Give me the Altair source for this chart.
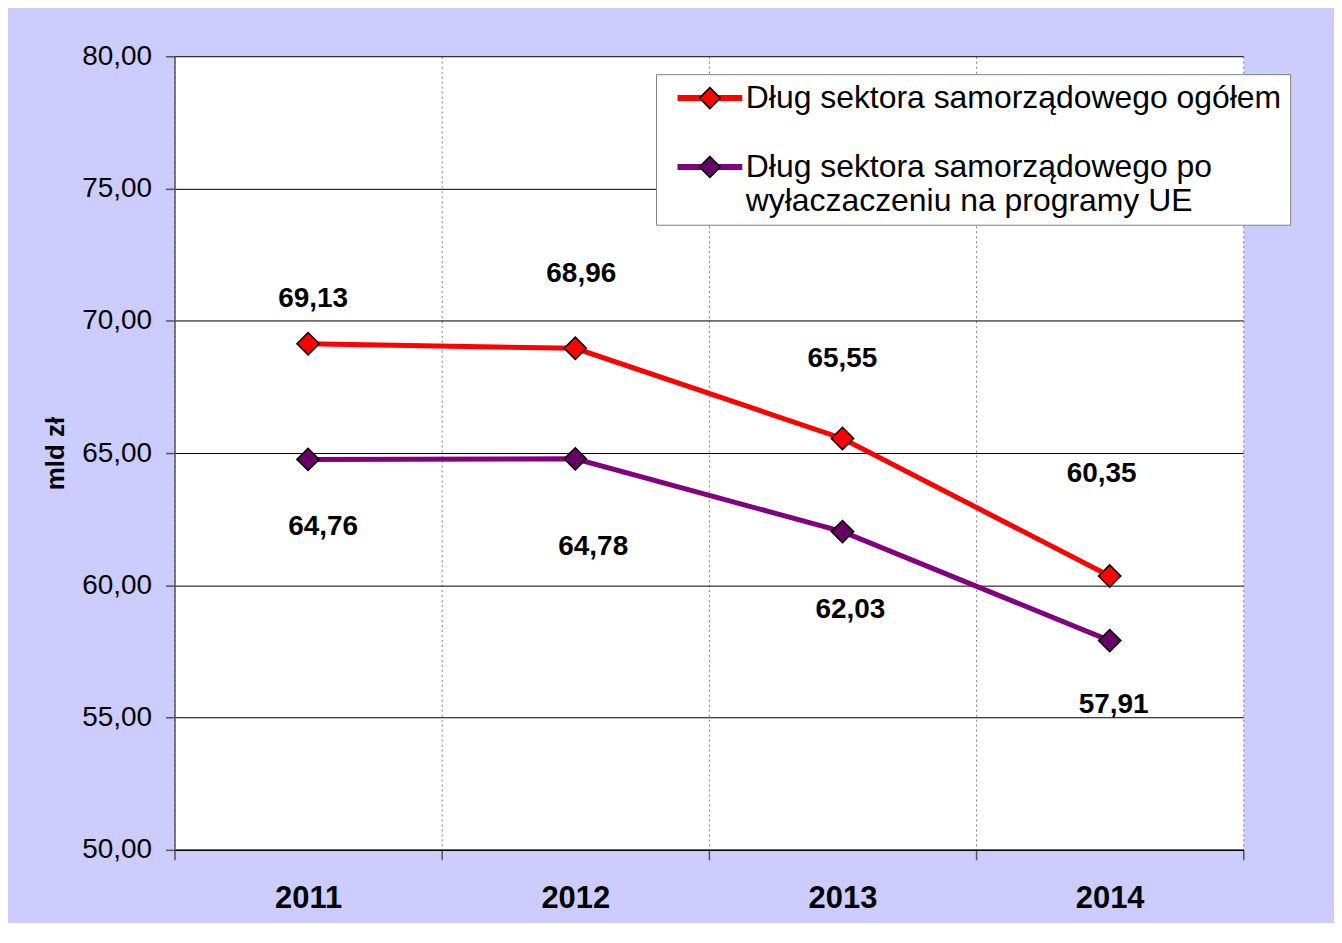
import json
import altair as alt
import pandas as pd

# ---------------- data ----------------
years = ["2011", "2012", "2013", "2014"]
series_names = [
    "Dług sektora samorządowego ogółem",
    "Dług sektora samorządowego po wyłaczaczeniu na programy UE",
]
legend_second_lines = ["Dług sektora samorządowego po", "wyłaczaczeniu na programy UE"]
total_debt = [69.13, 68.96, 65.55, 60.35]
debt_excl_eu = [64.76, 64.78, 62.03, 57.91]
y_ticks = [50, 55, 60, 65, 70, 75, 80]

# ---------------- styling / layout ----------------
FONT = "Liberation Sans"
line_colors = ["#FF0000", "#800080"]
marker_colors = ["#FF0000", "#660066"]
# pixel offsets of the value labels from their points
label_dx = [[5, 6, 0, -8], [15, 18, 8, 4]]
label_dy = [[-45, -74, -80, -102], [68, 88, 79, 65]]

rows = []
for s, (name, vals) in enumerate(zip(series_names, [total_debt, debt_excl_eu])):
    for i, (yr, v) in enumerate(zip(years, vals)):
        rows.append({"year": yr, "value": v, "series": name, "series_pt": name,
                     "sidx": s, "idx": i})
df = pd.DataFrame(rows)

label_expr = (f"datum.label == {json.dumps(series_names[1], ensure_ascii=False)} ? "
              f"{json.dumps(legend_second_lines, ensure_ascii=False)} : datum.label")

x_enc = alt.X(
    "year:N", sort=years,
    scale=alt.Scale(type="band", paddingInner=0, paddingOuter=0),
    axis=alt.Axis(title=None, labelAngle=0, labelFont=FONT, labelFontSize=31,
                  labelFontWeight="bold", labelColor="black", tickBand="extent",
                  tickSize=10, tickColor="#555555", tickWidth=1.5, labelPadding=24,
                  domainColor="black", domainWidth=1.5, grid=True, gridDash=[2, 3],
                  gridColor="#808080", gridWidth=1),
)
y_enc = alt.Y(
    "value:Q",
    scale=alt.Scale(domain=[50, 80], nice=False, zero=False),
    axis=alt.Axis(title="mld zł", values=y_ticks,
                  labelExpr="replace(format(datum.value, '.2f'), '.', ',')",
                  labelFont=FONT, labelFontSize=28, labelColor="black",
                  tickSize=9, tickColor="#555555", tickWidth=1.5, labelPadding=14,
                  domainColor="#555555", domainWidth=1.5, gridColor="black", gridWidth=1,
                  titleFont=FONT, titleFontSize=26, titleFontWeight="bold",
                  titleColor="black", titlePadding=13),
)

legend_common = dict(title=None, orient="none", legendX=483, legendY=18,
                     direction="vertical", labelFont=FONT, labelFontSize=32,
                     labelLimit=900, labelExpr=label_expr, padding=8, rowPadding=37,
                     symbolOffset=30, labelOffset=20)

lines = alt.Chart(df).mark_line(strokeWidth=5).encode(
    x=x_enc, y=y_enc,
    stroke=alt.Stroke("series:N",
                      scale=alt.Scale(domain=series_names, range=line_colors),
                      legend=alt.Legend(symbolType="M-2.62,0L2.62,0", symbolSize=615,
                                        symbolStrokeWidth=6, labelOpacity=0,
                                        fillColor="white", strokeColor="#808080",
                                        zindex=1, **legend_common)),
)

points = alt.Chart(df).mark_point(shape="diamond", filled=True, size=500, stroke="black",
                                  strokeWidth=1.5, opacity=1).encode(
    x=x_enc, y=y_enc,
    fill=alt.Fill("series_pt:N",
                  scale=alt.Scale(range=marker_colors),
                  legend=alt.Legend(symbolType="M0,-0.717L0.717,0L0,0.717L-0.717,0Z",
                                    symbolSize=858, symbolStrokeColor="black",
                                    symbolStrokeWidth=1.5, symbolOpacity=1,
                                    labelColor="black", zindex=2, **legend_common)),
)

label_layers = []
for s in range(len(series_names)):
    for i in range(len(years)):
        label_layers.append(
            alt.Chart(df).transform_filter(
                f"datum.sidx == {s} && datum.idx == {i}"
            ).transform_calculate(
                lbl="replace(format(datum.value, '.2f'), '.', ',')"
            ).mark_text(font=FONT, fontSize=28, fontWeight="bold", color="black",
                        align="center", baseline="middle",
                        dx=label_dx[s][i], dy=label_dy[s][i]).encode(
                x=x_enc, y=y_enc, text="lbl:N")
        )

chart = alt.layer(lines, points, *label_layers).properties(
    width=1072, height=796,
    padding={"left": 167, "top": 47, "right": 91, "bottom": 72},
    autosize=alt.AutoSizeParams(type="none"),
    background="#CCCCFF",
).configure_view(fill="white", stroke="transparent")

chart.save("out.html", embed_options={"renderer": "svg", "actions": False})
